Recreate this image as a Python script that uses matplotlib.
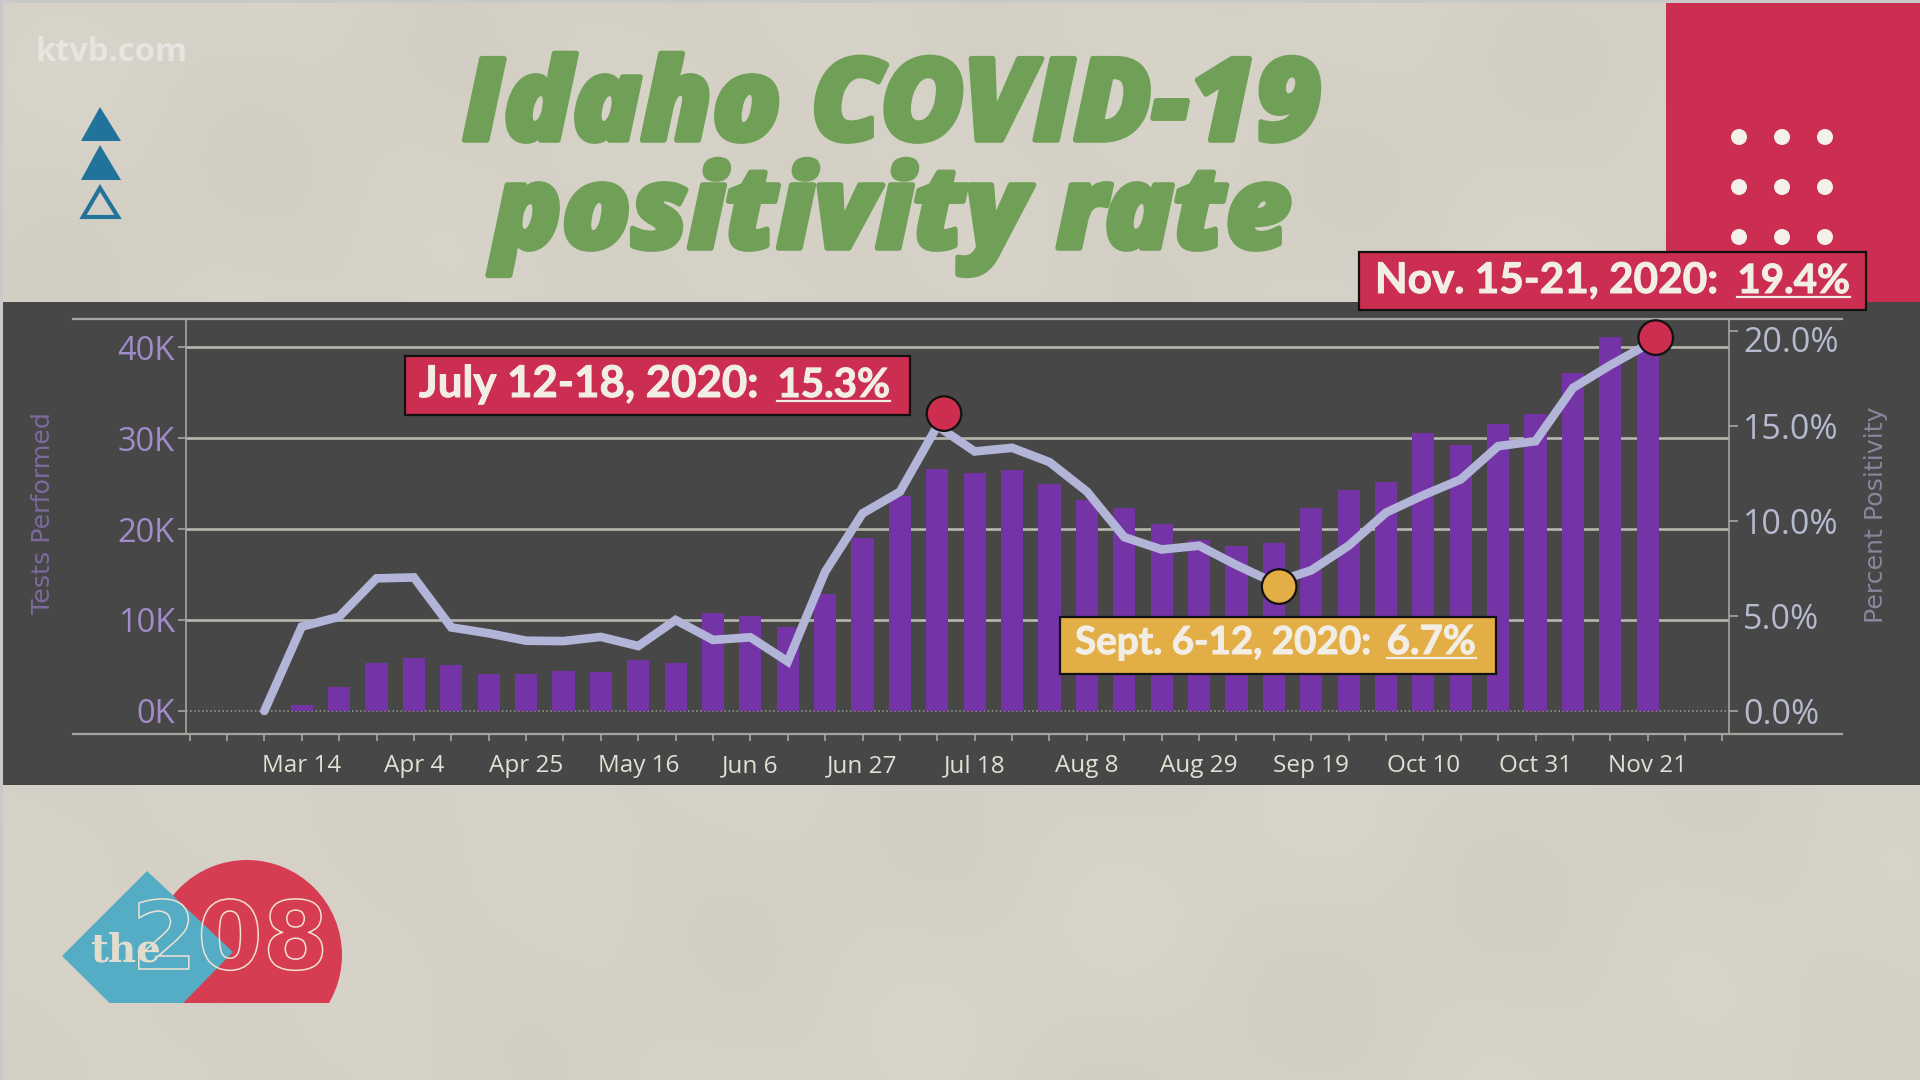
import numpy as np
import pandas as pd
import matplotlib
matplotlib.use("Agg")
import matplotlib.pyplot as plt
import matplotlib.patheffects as pe
from matplotlib.patches import Rectangle, Polygon, Circle
from matplotlib.transforms import ScaledTranslation

# ---------- data ----------
week_start = "2020-03-07"
week_end = "2020-11-21"
tests_k = [0.66, 2.6, 5.3, 5.8, 5.0, 4.1, 4.1, 4.4, 4.3, 5.6, 5.3, 10.8, 10.4, 9.2, 12.9, 19.0, 23.6, 26.6,
           26.2, 26.5, 25.0, 23.2, 22.3, 20.5, 18.8, 18.1, 18.5, 22.3, 24.3, 25.2, 30.5, 29.2, 31.5, 32.6,
           37.1, 41.1, 39.6]
positivity = [0.0, 4.44, 4.96, 6.98, 7.03, 4.4, 4.09, 3.7, 3.68, 3.9, 3.42, 4.79, 3.74, 3.88, 2.6, 7.33,
              10.4, 11.54, 15.0, 13.66, 13.85, 13.1, 11.55, 9.15, 8.5, 8.7, 7.68, 6.76, 7.4, 8.7, 10.44,
              11.36, 12.19, 13.94, 14.2, 17.0, 18.2, 19.3]
left_ticks = [0, 10, 20, 30, 40]
left_labels = ["0K", "10K", "20K", "30K", "40K"]
right_ticks = [0, 5, 10, 15, 20]
right_labels = ["0.0%", "5.0%", "10.0%", "15.0%", "20.0%"]
x_labels = ["Mar 14", "Apr 4", "Apr 25", "May 16", "Jun 6", "Jun 27", "Jul 18", "Aug 8", "Aug 29",
            "Sep 19", "Oct 10", "Oct 31", "Nov 21"]
hi_dates = ["2020-07-12 06:00", "2020-09-13 00:00", "2020-11-22 12:00"]
hi_values = [15.65, 6.55, 19.65]
hi_colors = ["#cd2e4f", "#e3ae45", "#cd2e4f"]
callout_text = ["July 12-18, 2020:", "Sept. 6-12, 2020:", "Nov. 15-21, 2020:"]
callout_value = ["15.3%", "6.7%", "19.4%"]

# ---------- style ----------
RED = "#cb2e50"
GOLD = "#e3ae45"
PAPER = (213, 209, 199)
PANEL = "#474747"
GRID = "#b8b8b0"
AXISC = "#a5a5a0"
BAR = "#7434a6"
LINE = "#b3b5d8"
GREEN = "#70a057"
W, H = 1920, 1080

fig = plt.figure(figsize=(W / 100, H / 100), dpi=100, facecolor="#c9c9c9")

# background layer in pixel coordinates
bg = fig.add_axes([0, 0, 1, 1], zorder=0)
bg.set_xlim(0, W); bg.set_ylim(H, 0); bg.axis("off")
yy, xx = np.mgrid[0:H:4, 0:W:4]
tex = (1.2 * np.sin(xx / 97 + yy / 61) + 1.0 * np.sin(xx / 43 - yy / 71 + 1)
       + 1.0 * np.sin((xx + 2 * yy) / 143))
img = np.stack([(c + tex) / 255 for c in PAPER], axis=-1)
bg.imshow(img, extent=(3, W, H, 3), aspect="auto", zorder=0, interpolation="bilinear")
bg.set_xlim(0, W); bg.set_ylim(H, 0)
bg.add_patch(Rectangle((3, 302), W - 3, 483, fc=PANEL, ec="none", zorder=1))
bg.add_patch(Rectangle((1666, 3), W - 1666, 299, fc=RED, ec="none", zorder=1))
for dy in (137, 187, 237):
    for dx in (1739, 1782, 1825):
        bg.add_patch(Circle((dx, dy), 8, fc="#f4f1ea", ec="none", zorder=2))
TRI = "#22739b"
bg.add_patch(Polygon([(100, 107), (121, 141), (81, 141)], fc=TRI, ec="none", zorder=2))
bg.add_patch(Polygon([(100, 145), (121, 180), (81, 180)], fc=TRI, ec="none", zorder=2))
bg.add_patch(Polygon([(100, 188), (118, 217), (83, 217)], fc="none", ec=TRI, lw=3, zorder=2))
bg.plot([73, 1842], [319, 319], color=AXISC, lw=1.6, zorder=2)
bg.plot([73, 1842], [734, 734], color=AXISC, lw=1.6, zorder=2)

# logo
circ = Circle((247, 955), 95, fc="#d63c52", ec="none", zorder=2)
bg.add_patch(circ)
circ.set_clip_path(Rectangle((0, 0), W, 1003, transform=bg.transData))
dia = Polygon([(62, 956), (147, 871), (233, 952), (147, 1040)], fc="#55acc5", ec="none", zorder=3)
bg.add_patch(dia)
dia.set_clip_path(Rectangle((0, 0), W, 1003, transform=bg.transData))
bg.text(126, 950, "the", family="DejaVu Serif", weight="bold", fontsize=28, color="#e2dccd",
        ha="center", va="center", zorder=5)
bg.text(230, 943, "208", family="DejaVu Sans", weight="bold", fontsize=68, color="none",
        ha="center", va="center", zorder=4,
        path_effects=[pe.Stroke(linewidth=1.1, foreground="#f0e2d4")])

# text on paper
bg.text(36, 61, "ktvb.com", family="Open Sans", weight="bold", fontsize=23.5, color="#e6e5e0",
        ha="left", va="baseline", zorder=3)
for txt, ytxt in (("Idaho COVID-19", 140), ("positivity rate", 248)):
    bg.text(892, ytxt, txt, family="Open Sans", weight=800, style="italic", fontsize=82, color=GREEN,
            ha="center", va="baseline", zorder=3,
            path_effects=[pe.withStroke(linewidth=4, foreground=GREEN)])

# ---------- chart ----------
L, R, T, B = 186, 1728.5, 319, 734
ax = fig.add_axes([L / W, 1 - B / H, (R - L) / W, (B - T) / H], zorder=2)
ax.patch.set_alpha(0)
dates = pd.date_range(week_start, week_end, freq="7D")
ax.bar(dates[1:], tests_k, width=4.15, color=BAR, zorder=3)
ax.set_xlim(pd.Timestamp("2020-02-21 08:00"), pd.Timestamp("2020-12-06 03:00"))
ax.set_ylim(-2.53, 43.08)
ax.set_yticks(left_ticks, left_labels)
ax.set_axisbelow(True)
ax.grid(axis="y", color=GRID, lw=1.9)
ax.get_ygridlines()[0].set(linestyle=":", lw=1.1, color="#9a9a9a")
ax.tick_params(axis="y", length=6, width=1.2, color=AXISC, labelcolor="#a28bc9", labelsize=23.5,
               labelfontfamily="Open Sans", pad=2)
ax.set_xticks(pd.date_range("2020-03-14", "2020-11-21", freq="21D"), x_labels)
ax.set_xticks(pd.date_range("2020-02-22", "2020-12-05", freq="7D"), minor=True)
ax.tick_params(axis="x", which="both", length=5, width=1.2, color=AXISC)
ax.tick_params(axis="x", which="major", labelcolor="#e2e0d4", labelsize=17.5, labelfontfamily="Open Sans", pad=9.5)
for s in ("top", "bottom"):
    ax.spines[s].set_visible(False)
for s in ("left", "right"):
    ax.spines[s].set(color=AXISC, lw=1.2)

ax2 = ax.twinx()
ax2.patch.set_alpha(0)
ax2.plot(dates, positivity, color=LINE, lw=6.2, solid_joinstyle="miter", solid_capstyle="round", zorder=4)
ax2.scatter(pd.to_datetime(hi_dates), hi_values, s=620, c=hi_colors, edgecolors="#111111", linewidths=1.6,
            zorder=6, clip_on=False)
ax2.set_ylim(-1.21, 20.63)
ax2.set_yticks(right_ticks, right_labels)
ax2.tick_params(axis="y", length=6.5, width=1.2, color=AXISC, labelcolor="#b6bace", labelsize=24.5,
                labelfontfamily="Open Sans", pad=4)
for lab in ax2.get_yticklabels():
    shift_px = -8 if lab.get_text() == "20.0%" else 0
    lab.set_transform(lab.get_transform() + ScaledTranslation(0, shift_px / 100, fig.dpi_scale_trans))
for s in ax2.spines.values():
    s.set_visible(False)

fig.text(43 / W, 1 - 513 / H, "Tests Performed", rotation=90, ha="center", va="center", fontsize=18.2,
         family="DejaVu Sans", color="#7c6a9c")
fig.text(1876 / W, 1 - 515 / H, "Percent Positivity", rotation=90, ha="center", va="center", fontsize=18.2,
         family="DejaVu Sans", color="#85879b")

# ---------- callouts ----------
top = fig.add_axes([0, 0, 1, 1], zorder=3)
top.set_xlim(0, W); top.set_ylim(H, 0); top.axis("off")
boxes = [(405, 356, 505, 59, RED, 419, 890, 401, 31.5), (1060, 617, 436, 57, GOLD, 1075, 1476, 658, 27.8),
         (1359, 252, 507, 58, RED, 1375, 1850, 297, 30.5)]
rend = fig.canvas.get_renderer()
stroke = [pe.withStroke(linewidth=0.7, foreground="#f2eee6")]
for (x, y, w, h, c, xl, xr, yu, fs), lab, val in zip(boxes, callout_text, callout_value):
    top.add_patch(Rectangle((x, y), w, h, fc=c, ec="#111111", lw=1.6))
    yb = yu - 4
    top.text(xl, yb, lab, family="Lato", weight="bold", fontsize=fs, color="#f2eee6", ha="left", va="baseline",
             path_effects=stroke)
    tv = top.text(xr, yb, val, family="Lato", weight="bold", fontsize=29, color="#f2eee6", ha="right",
                  va="baseline", path_effects=stroke)
    ext = tv.get_window_extent(rend)
    top.plot([ext.x0, ext.x1], [yu, yu], color="#f2eee6", lw=1.6)

fig.savefig("out.png", dpi=100, facecolor=fig.get_facecolor())
